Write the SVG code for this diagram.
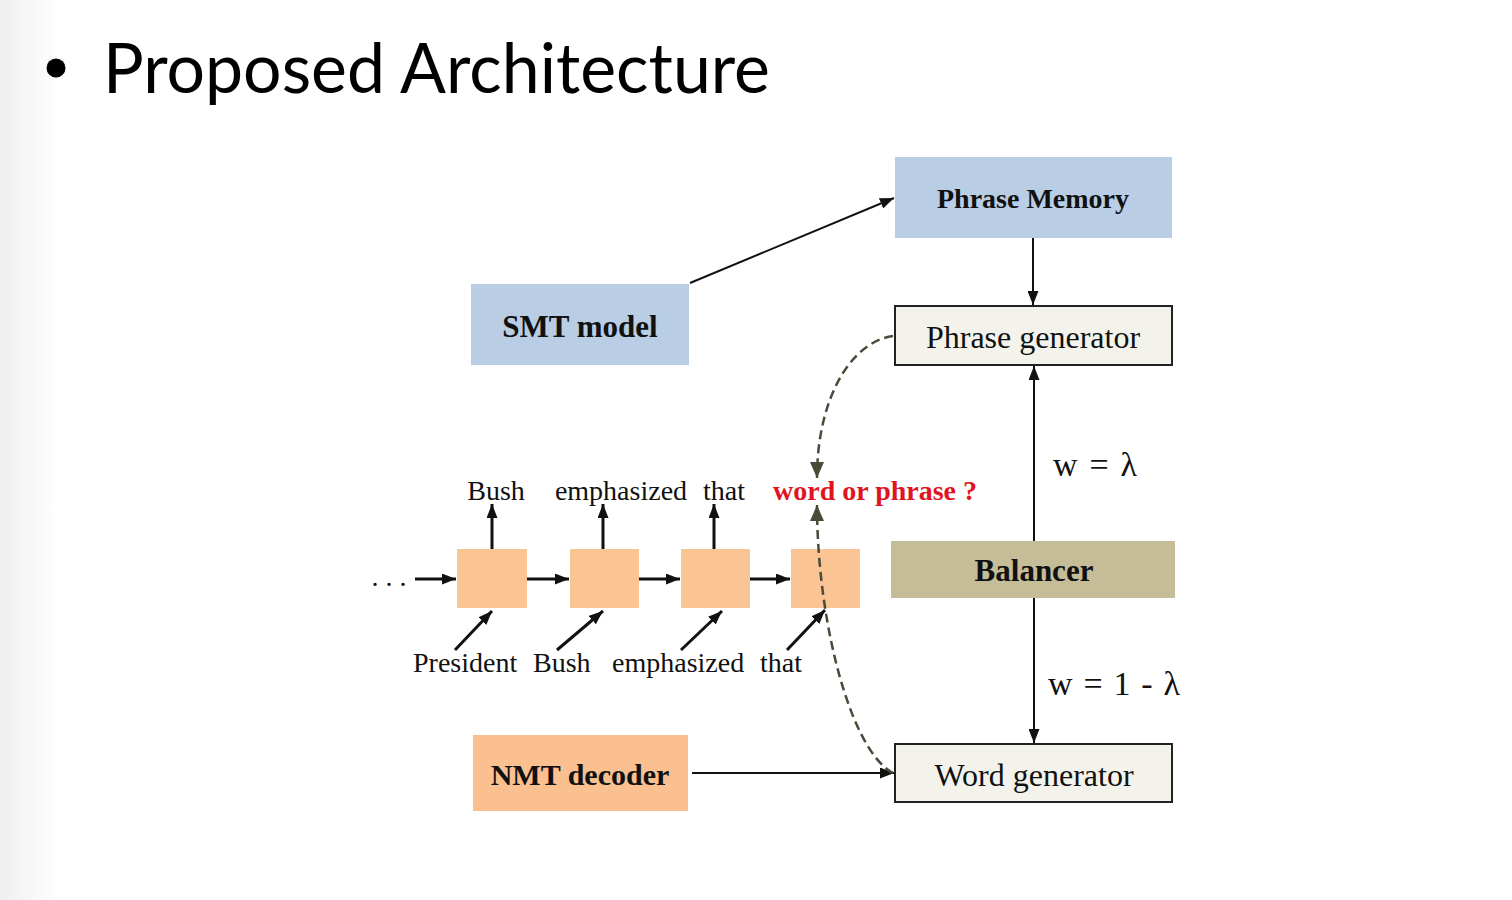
<svg xmlns="http://www.w3.org/2000/svg" width="1512" height="900" viewBox="0 0 1512 900">
<defs>
<linearGradient id="edge" x1="0" y1="0" x2="1" y2="0">
<stop offset="0" stop-color="#efefef"/>
<stop offset="0.5" stop-color="#f7f7f7"/>
<stop offset="1" stop-color="#ffffff"/>
</linearGradient>
<marker id="ah" viewBox="0 0 14 11" refX="14" refY="5.5" markerWidth="14" markerHeight="11" markerUnits="userSpaceOnUse" orient="auto">
<path d="M0,0 L14,5.5 L0,11 Z" fill="#111"/>
</marker>
<marker id="ahd" viewBox="0 0 16 14" refX="16" refY="7" markerWidth="16" markerHeight="14" markerUnits="userSpaceOnUse" orient="auto">
<path d="M0,0 L16,7 L0,14 Z" fill="#4a4a38"/>
</marker>
<style>
.serif{font-family:"Liberation Serif","Times New Roman",serif;fill:#111}
.b{font-weight:bold}
.lbl{font-size:28px}
.ln{stroke:#111;stroke-width:2;fill:none}
.lnb{stroke:#111;stroke-width:3;fill:none}
.dash{stroke:#4a4a38;stroke-width:2.5;fill:none;stroke-dasharray:9 5}
.cell{fill:#fbc494}
.gen{fill:#f3f3ec;stroke:#222;stroke-width:2}
</style>
</defs>
<rect x="0" y="0" width="1512" height="900" fill="#fff"/>
<rect x="0" y="0" width="60" height="900" fill="url(#edge)"/>

<g id="title">
<circle cx="56" cy="68" r="9.5" fill="#000"/>
<text x="103" y="93" font-family="Lato, 'Open Sans', sans-serif" font-size="70" fill="#000" textLength="667" lengthAdjust="spacingAndGlyphs">Proposed Architecture</text>
</g>

<g id="phrase-memory">
<rect x="895" y="157" width="277" height="81" fill="#b9cde5"/>
<text x="1033" y="208" class="serif b" font-size="28" text-anchor="middle">Phrase Memory</text>
</g>
<g id="smt-model">
<rect x="471" y="284" width="218" height="81" fill="#b9cde5"/>
<text x="580" y="337" class="serif b" font-size="31" text-anchor="middle">SMT model</text>
</g>
<g id="phrase-generator">
<rect x="895" y="306" width="277" height="59" class="gen"/>
<text x="1033" y="348" class="serif" font-size="32" text-anchor="middle">Phrase generator</text>
</g>
<g id="balancer">
<rect x="891" y="541" width="284" height="57" fill="#c4bd97"/>
<text x="1034" y="581" class="serif b" font-size="31" text-anchor="middle">Balancer</text>
</g>
<g id="word-generator">
<rect x="895" y="744" width="277" height="58" class="gen"/>
<text x="1034" y="786" class="serif" font-size="32" text-anchor="middle">Word generator</text>
</g>
<g id="nmt-decoder">
<rect x="473" y="735" width="215" height="76" fill="#fac090"/>
<text x="580" y="785" class="serif b" font-size="30" text-anchor="middle">NMT decoder</text>
</g>

<g id="cell-1"><rect x="457" y="549" width="70" height="59" class="cell"/></g>
<g id="cell-2"><rect x="570" y="549" width="69" height="59" class="cell"/></g>
<g id="cell-3"><rect x="681" y="549" width="69" height="59" class="cell"/></g>
<g id="cell-4"><rect x="791" y="549" width="69" height="59" class="cell"/></g>

<g id="labels">
<text x="389" y="586" class="serif" font-size="28" text-anchor="middle">. . .</text>
<text x="496" y="500" class="serif lbl" text-anchor="middle">Bush</text>
<text x="621" y="500" class="serif lbl" text-anchor="middle">emphasized</text>
<text x="724" y="500" class="serif lbl" text-anchor="middle">that</text>
<text x="773" y="500" class="serif b lbl" style="fill:#e0141e">word or phrase ?</text>
<text x="413" y="672" class="serif lbl">President</text>
<text x="533" y="672" class="serif lbl">Bush</text>
<text x="612" y="672" class="serif lbl">emphasized</text>
<text x="760" y="672" class="serif lbl">that</text>
<text x="1053" y="476" class="serif" font-size="34" textLength="84" lengthAdjust="spacing">w = λ</text>
<text x="1048" y="695" class="serif" font-size="34" textLength="132" lengthAdjust="spacing">w = 1 - λ</text>
</g>

<g id="connectors">
<line x1="690" y1="283" x2="894" y2="198" class="ln" marker-end="url(#ah)"/>
<line x1="1033" y1="238" x2="1033" y2="305" class="ln" marker-end="url(#ah)"/>
<line x1="1034" y1="541" x2="1034" y2="366" class="ln" marker-end="url(#ah)"/>
<line x1="1034" y1="598" x2="1034" y2="743" class="ln" marker-end="url(#ah)"/>
<line x1="692" y1="773" x2="894" y2="773" class="ln" marker-end="url(#ah)"/>
<line x1="415" y1="579" x2="456" y2="579" class="lnb" marker-end="url(#ah)"/>
<line x1="527" y1="579" x2="569" y2="579" class="lnb" marker-end="url(#ah)"/>
<line x1="639" y1="579" x2="680" y2="579" class="lnb" marker-end="url(#ah)"/>
<line x1="750" y1="579" x2="790" y2="579" class="lnb" marker-end="url(#ah)"/>
<line x1="492" y1="549" x2="492" y2="504" class="lnb" marker-end="url(#ah)"/>
<line x1="603" y1="549" x2="603" y2="504" class="lnb" marker-end="url(#ah)"/>
<line x1="714" y1="549" x2="714" y2="504" class="lnb" marker-end="url(#ah)"/>
<line x1="455" y1="650" x2="492" y2="611" class="lnb" marker-end="url(#ah)"/>
<line x1="557" y1="650" x2="603" y2="611" class="lnb" marker-end="url(#ah)"/>
<line x1="681" y1="650" x2="722" y2="611" class="lnb" marker-end="url(#ah)"/>
<line x1="787" y1="650" x2="825" y2="610" class="lnb" marker-end="url(#ah)"/>
<path d="M893,336 C850,342 817,400 817,478" class="dash" marker-end="url(#ahd)"/>
<path d="M893,773 C850,750 817,620 817,505" class="dash" marker-end="url(#ahd)"/>
</g>
</svg>
